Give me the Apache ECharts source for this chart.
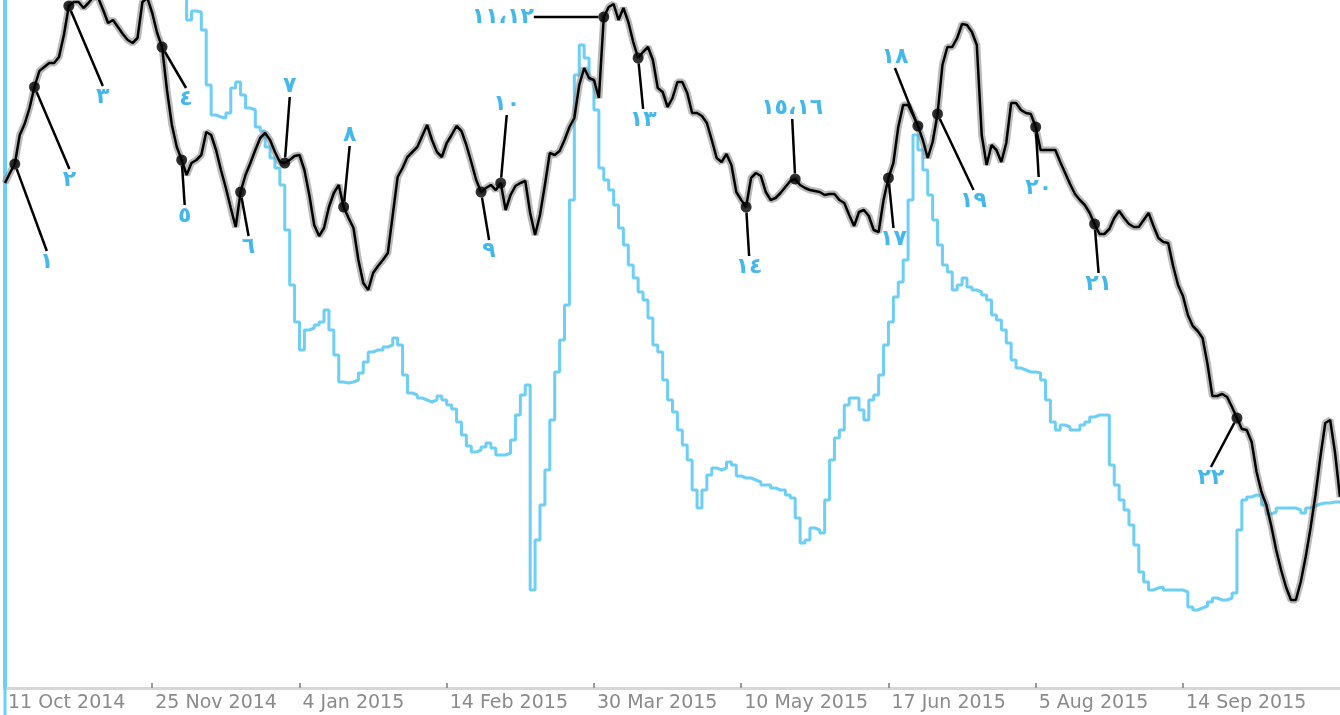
<!DOCTYPE html>
<html>
<head>
<meta charset="utf-8">
<script src="https://cdn.jsdelivr.net/npm/echarts@6/dist/echarts.min.js"></script>
<style>html,body{margin:0;padding:0;background:#fff;}#c{width:1340px;height:715px;}</style>
</head>
<body>
<div id="c"></div>
<script>
// Tick labels (every 30 sessions)
const tickLabels = ['11 Oct 2014','25 Nov 2014','4 Jan 2015','14 Feb 2015','30 Mar 2015','10 May 2015','17 Jun 2015','5 Aug 2015','14 Sep 2015','26 Oct 2015'];

// Black series (price-like line)
const blackSeries = [
101.0,103.0,104.8,110.6,112.8,116.0,120.2,123.4,124.2,125.0,
125.0,126.2,130.6,136.4,137.2,137.2,136.0,137.0,138.2,138.0,
135.6,133.0,133.6,132.2,130.8,129.6,129.0,130.0,137.2,138.0,
135.0,131.0,128.2,119.6,112.6,108.2,105.6,102.6,105.0,105.6,
106.6,111.2,110.6,107.6,103.6,100.0,96.0,92.2,99.2,102.6,
105.0,107.6,110.0,111.0,109.6,107.2,105.2,105.0,105.6,106.4,
106.6,103.6,98.6,92.6,90.4,92.0,96.2,99.0,100.6,96.2,
94.0,92.0,85.6,81.0,79.6,83.0,84.4,85.6,87.0,94.6,
102.2,104.0,106.2,107.2,108.2,110.4,112.6,109.6,107.2,106.2,
109.0,110.6,112.4,111.4,108.6,105.2,101.6,99.2,100.0,100.6,
99.6,101.0,95.6,98.6,100.4,101.0,101.4,95.0,90.6,94.6,
100.6,107.0,106.6,107.4,109.6,112.2,114.0,120.6,124.0,122.0,
121.6,118.0,134.2,136.2,136.8,133.6,136.0,133.2,129.2,126.0,
127.2,128.2,125.6,120.0,119.2,116.2,118.0,121.2,121.2,119.0,
115.0,115.0,114.4,113.0,109.6,106.0,105.2,106.8,104.6,99.2,
97.6,96.2,102.0,103.0,102.4,99.2,97.6,98.0,99.0,100.2,
101.4,101.8,100.6,100.0,99.6,99.4,99.2,98.6,98.8,98.8,
97.6,97.0,94.6,92.4,95.2,95.6,94.4,91.6,91.2,97.6,
102.0,105.0,112.2,116.6,116.6,114.6,112.4,109.6,106.0,109.2,
114.8,124.6,128.2,128.2,130.0,132.8,132.6,131.2,128.6,110.6,
104.6,108.6,107.6,105.2,109.0,117.0,117.0,115.6,115.0,114.8,
112.2,107.6,107.6,107.6,107.6,105.2,103.0,100.8,98.8,97.6,
96.6,95.0,92.8,90.8,90.8,91.8,94.0,95.4,94.0,92.8,
92.2,92.2,93.6,95.0,92.4,90.0,89.2,89.0,84.4,80.6,
78.4,74.6,72.4,71.4,70.0,64.8,58.4,58.4,58.8,58.2,
56.2,54.0,51.8,51.6,49.2,43.2,39.2,36.6,32.4,27.6,
23.6,20.2,17.6,17.6,21.2,26.2,32.0,38.6,46.2,53.0,
53.6,47.0,38.2
];

// Blue series (starts below the axis, runs above the top, then enters)
const blueSeries = [
-10,150.2,151.0,152.4,151.8,150.6,149.8,151.2,152.6,153.0,
152.2,150.8,149.6,148.8,150.0,151.4,150.6,149.2,148.6,149.4,
150.2,149.0,147.8,147.2,148.4,149.6,148.8,147.6,146.4,145.8,
146.6,147.4,146.2,145.0,144.2,143.6,142.8,141.6,133.6,135.4,
135.2,131.6,120.6,114.6,114.2,114.0,115.0,120.0,121.2,118.6,
116.0,115.6,112.2,111.4,108.2,106.0,104.0,100.6,91.6,80.6,
73.2,67.6,71.6,72.0,72.6,73.2,75.6,71.6,66.6,61.2,
61.0,61.2,61.6,63.0,65.2,67.2,67.6,67.6,68.2,68.6,
70.0,68.6,62.6,59.0,58.6,58.0,57.6,57.2,57.6,58.4,
57.6,56.6,55.8,53.2,50.6,48.4,47.2,47.6,48.2,49.0,
48.0,46.6,46.6,47.0,49.6,54.6,58.6,60.6,19.6,29.6,
36.6,43.6,53.6,63.2,69.6,76.6,97.6,122.6,128.6,126.0,
121.6,115.6,104.0,101.6,99.6,96.6,92.0,88.6,84.6,82.0,
79.2,77.6,74.0,68.6,67.2,61.6,57.6,55.2,51.6,48.6,
45.6,39.6,36.0,39.6,42.6,44.0,43.6,44.0,45.2,44.6,
42.4,42.0,42.0,41.6,41.2,40.6,40.6,40.0,39.6,39.6,
38.6,38.0,34.0,29.0,29.6,32.0,31.6,31.0,37.6,45.6,
50.0,51.6,56.6,58.0,58.0,55.6,53.6,57.6,58.6,62.6,
68.6,73.2,78.2,81.2,85.6,97.6,110.6,107.6,103.6,98.6,
93.6,88.6,84.6,83.2,79.6,80.6,82.0,80.2,79.6,79.2,
78.6,77.6,74.6,73.6,71.6,69.0,65.6,64.0,63.6,63.2,
63.2,63.0,61.6,57.6,53.2,51.6,52.6,52.2,51.6,51.6,
52.6,53.2,54.2,54.6,54.6,54.6,44.6,40.6,37.6,35.6,
32.6,28.6,23.2,21.2,19.6,20.0,20.2,19.6,19.6,19.6,
19.6,19.2,16.2,15.6,16.0,16.4,17.2,18.0,17.6,17.6,
18.0,19.0,31.6,37.6,38.2,38.6,38.4,36.6,34.8,35.2,
36.0,36.0,36.0,36.0,35.6,35.0,36.0,36.4,36.8,37.0,
37.0,37.2,37.2
];

// Annotated points on the black line (index) and their labels
const annotIndex = [2,6,13,32,36,48,57,69,97,101,122,129,151,161,180,186,190,210,222,251];
const annotLabels = ['١','٢','٣','٤','٥','٦','٧','٨','٩','١٠','١١،١٢','١٣','١٤','١٥،١٦','١٧','١٨','١٩','٢٠','٢١','٢٢'];

// label placement offsets (style, px)
const labelOffsets = [[32,98],[35,93],[34,91],[24,52],[3,56],[8,55],[5,-77],[6,-72],[8,59],[6,-79],
  [-101,0],[5,62],[3,60],[-3,-71],[5,61],[-23,-69],[36,87],[3,61],[4,60],[-26,60]];

const categories = blackSeries.map((_, i) => String(i));
const annotData = annotIndex.map(i => [String(i), blackSeries[i]]);

const chart = echarts.init(document.getElementById('c'), null, {renderer: 'canvas'});
chart.setOption({
  animation: false,
  grid: {left: 5, right: 0, top: 0, bottom: 27, containLabel: false},
  xAxis: {
    type: 'category',
    data: categories,
    boundaryGap: false,
    axisLine: {lineStyle: {color: '#d6d6d6', width: 3}},
    axisTick: {show: true, interval: 29, length: 5, inside: true, lineStyle: {color: '#9a9a9a', width: 2}},
    axisLabel: {
      interval: 29,
      showMaxLabel: false,
      align: 'left',
      padding: [0, 0, 0, 3],
      margin: 6,
      color: '#8a8a8a',
      fontFamily: 'DejaVu Sans',
      fontSize: 19,
      formatter: (v, idx) => (idx % 30 === 0 ? tickLabels[idx / 30] : '')
    },
    splitLine: {show: false}
  },
  yAxis: {
    type: 'value',
    min: 0,
    max: 137.6,
    axisLine: {show: true, lineStyle: {color: '#6dcff6', width: 4}},
    axisTick: {show: false},
    axisLabel: {show: false},
    splitLine: {show: false}
  },
  series: [
    {
      type: 'line', data: blueSeries, step: 'start', clip: false, symbol: 'none',
      lineStyle: {color: '#6dcff6', width: 3}, z: 2
    },
    {
      type: 'line', data: blackSeries, symbol: 'none',
      lineStyle: {color: '#8a8a8a', width: 7, opacity: 0.6}, z: 3
    },
    {
      type: 'line', data: blackSeries, symbol: 'none',
      lineStyle: {color: '#000', width: 2.5}, z: 4
    },
    {
      type: 'scatter', data: annotData, symbol: 'circle', symbolSize: 11,
      itemStyle: {color: '#000'}, z: 5,
      label: {
        show: true, position: 'inside',
        formatter: p => annotLabels[p.dataIndex],
        color: '#15a6e6', fontFamily: 'DejaVu Sans', fontWeight: 'bold', fontSize: 22
      },
      labelLine: {show: true, lineStyle: {color: '#000', width: 2.5}},
      labelLayout: p => ({dx: labelOffsets[p.dataIndex][0], dy: labelOffsets[p.dataIndex][1]})
    }
  ]
});
</script>
</body>
</html>
